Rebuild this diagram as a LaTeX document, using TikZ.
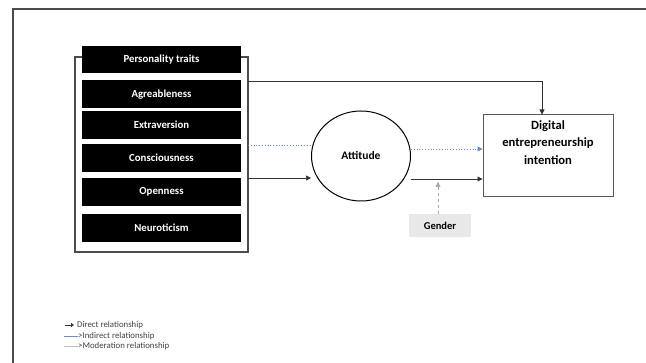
\documentclass[tikz,border=0pt]{standalone}
\usepackage{fontspec}
\setmainfont{Carlito}
\usetikzlibrary{arrows.meta,shapes.geometric}

\definecolor{relblue}{RGB}{68,114,196}

\tikzset{
	trait/.style={fill = black, text = white, font = \bfseries\fontsize{10.8}{12}\selectfont, minimum width = 159pt, minimum height = 27pt, inner sep = 0pt},
	direct/.style={black!80, line width = 0.7pt, -{Triangle[length=5pt,width=5pt]}},
	indirect/.style={relblue!85, dotted, line width = 0.8pt},
	moder/.style={gray!70, dashed, line width = 0.6pt, -{Triangle[length=5pt,width=5pt]}},
	legend/.style={anchor = west, inner sep = 0pt, font = \fontsize{8.8}{9}\selectfont, text = black!75}
}

\begin{document}
\begin{tikzpicture}[x=1pt, y=-1pt]

		\useasboundingbox (0,0) rectangle (646,363);

		% page frame
		\draw [gray!60!black, line width = 1.3pt] (13,363) -- (13,9) -- (646,9);

		% Personality traits group
		\node [draw = gray!60!black, line width = 1.2pt, minimum width = 173pt, minimum height = 195pt, inner sep = 0pt] (group) at (161.5,154.5) {};

		\node [trait] (head) at (161.5,59.5) {Personality traits};
		\node [trait, minimum height = 28pt] (agree) at (161.5,94.5) {Agreableness};
		\node [trait, minimum height = 28pt] (extra) at (161.5,125) {Extraversion};
		\node [trait, minimum height = 28pt] (consc) at (161.5,158) {Consciousness};
		\node [trait, minimum height = 28pt] (open) at (161.5,192) {Openness};
		\node [trait, minimum height = 28pt] (neuro) at (161.5,228) {Neuroticism};

		% mediator and outcome
		\node [draw, ellipse, line width = 1pt, minimum width = 99pt, minimum height = 90pt, font = \bfseries\fontsize{11.5}{13}\selectfont] (att) at (361,156) {Attitude};
		\node [draw = gray!70!black, line width = 1pt, minimum width = 130pt, minimum height = 82pt, inner sep = 0pt] (tgt) at (548,156) {};
		\node [align = center, font = \bfseries\fontsize{12.6}{17.5}\selectfont, anchor = north] (tgttext) at (548,117) {Digital\\entrepreneurship\\intention};

		% moderator
		\node [fill = gray!18, minimum width = 62pt, minimum height = 23pt, inner sep = 0pt, font = \bfseries\fontsize{10.5}{12}\selectfont] (gen) at (440,225.5) {Gender};

		% end points
		\coordinate (topA) at (248,81);
		\coordinate (blueA) at (248,145);
		\coordinate (blueB) at (483,149);
		\coordinate (dirA) at (248,178);
		\coordinate (dirB) at (483,179);
		\coordinate (modEnd) at (438,182);

		% direct relationships
		\draw [direct] (topA) -| ([xshift=-6pt]tgt.north);
		\draw [direct] (dirA) -- (dirA -| att.west);
		\draw [direct] (dirB -| att.east) -- (tgt.west |- dirB);

		% indirect relationships
		\draw [indirect] (blueA) -- (blueA -| att.west);
		\draw [indirect, -{Triangle[length=5pt,width=5pt]}] (blueB -| att.east) -- (tgt.west |- blueB);

		% moderation
		\draw [moder] (gen.north -| modEnd) -- (modEnd);

		% legend
		\node [legend] (lgA) at (77,325) {Direct relationship};
		\node [legend] (lgB) at (78,336) {>Indirect relationship};
		\node [legend] (lgC) at (78,346.5) {>Moderation relationship};
		\coordinate (lgAs) at (65,325);
		\coordinate (lgBs) at (64,336);
		\coordinate (lgCs) at (64,346.5);
		\draw [black!80, line width = 0.8pt, -{Triangle[length=3pt,width=4pt]}] (lgAs) -- ([xshift=-3pt]lgA.west);
		\draw [relblue!80, line width = 0.4pt] (lgBs) -- (lgB.west);
		\draw [gray!50, line width = 0.4pt] (lgCs) -- (lgC.west);

\end{tikzpicture}
\end{document}
